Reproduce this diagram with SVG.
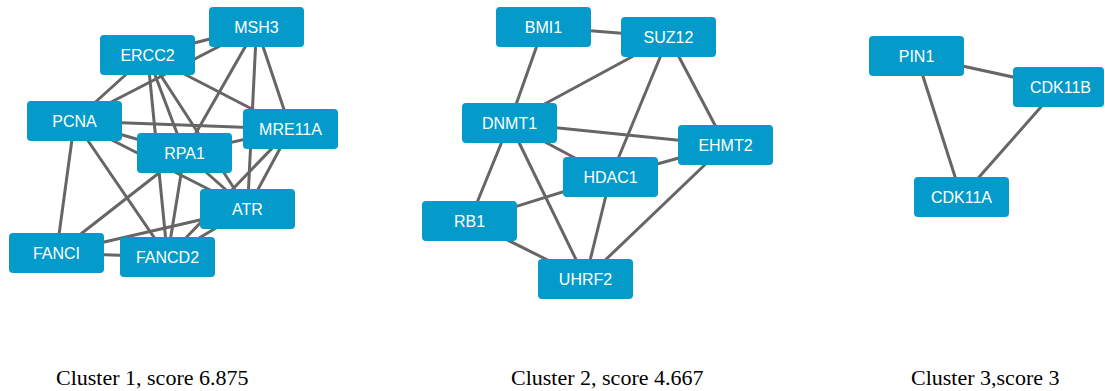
<svg xmlns="http://www.w3.org/2000/svg" width="1105" height="391" viewBox="0 0 1105 391">
  <style>
    .edge { stroke: #666666; stroke-width: 3; stroke-linecap: butt; fill: none; }
    .node rect { fill: #049bcb; }
    .node text { fill: #ffffff; font-family: "Liberation Sans", Arial, sans-serif; font-size: 16px; text-anchor: middle; }
    .caption { fill: #000000; font-family: "Liberation Serif", "Times New Roman", serif; font-size: 22px; }
  </style>

  <!-- connectors, drawn centre to centre beneath the nodes -->
  <g id="edges" class="edge">
    <!-- cluster 1 -->
    <line x1="147.5" y1="55" x2="256.5" y2="27"/>
    <line x1="74.5" y1="121" x2="256.5" y2="27"/>
    <line x1="256.5" y1="27" x2="184.5" y2="153"/>
    <line x1="256.5" y1="27" x2="247.5" y2="209"/>
    <line x1="256.5" y1="27" x2="290.5" y2="129"/>
    <line x1="147.5" y1="55" x2="74.5" y2="121"/>
    <line x1="147.5" y1="55" x2="167.5" y2="257"/>
    <line x1="147.5" y1="55" x2="184.5" y2="153"/>
    <line x1="147.5" y1="55" x2="247.5" y2="209"/>
    <line x1="147.5" y1="55" x2="290.5" y2="129"/>
    <line x1="74.5" y1="121" x2="290.5" y2="129"/>
    <line x1="74.5" y1="121" x2="184.5" y2="153"/>
    <line x1="74.5" y1="121" x2="247.5" y2="209"/>
    <line x1="74.5" y1="121" x2="56.5" y2="253"/>
    <line x1="74.5" y1="121" x2="167.5" y2="257"/>
    <line x1="290.5" y1="129" x2="184.5" y2="153"/>
    <line x1="290.5" y1="129" x2="247.5" y2="209"/>
    <line x1="290.5" y1="129" x2="167.5" y2="257"/>
    <line x1="184.5" y1="153" x2="247.5" y2="209"/>
    <line x1="184.5" y1="153" x2="56.5" y2="253"/>
    <line x1="184.5" y1="153" x2="167.5" y2="257"/>
    <line x1="247.5" y1="209" x2="56.5" y2="253"/>
    <line x1="247.5" y1="209" x2="167.5" y2="257"/>
    <line x1="56.5" y1="253" x2="167.5" y2="257"/>
    <!-- cluster 2 -->
    <line x1="543.5" y1="27" x2="668.5" y2="37"/>
    <line x1="543.5" y1="27" x2="509.5" y2="123"/>
    <line x1="668.5" y1="37" x2="509.5" y2="123"/>
    <line x1="668.5" y1="37" x2="610.5" y2="177"/>
    <line x1="668.5" y1="37" x2="725.5" y2="145"/>
    <line x1="509.5" y1="123" x2="725.5" y2="145"/>
    <line x1="509.5" y1="123" x2="610.5" y2="177"/>
    <line x1="509.5" y1="123" x2="469.5" y2="221"/>
    <line x1="509.5" y1="123" x2="585.5" y2="279"/>
    <line x1="610.5" y1="177" x2="725.5" y2="145"/>
    <line x1="610.5" y1="177" x2="469.5" y2="221"/>
    <line x1="610.5" y1="177" x2="585.5" y2="279"/>
    <line x1="725.5" y1="145" x2="585.5" y2="279"/>
    <line x1="469.5" y1="221" x2="585.5" y2="279"/>
    <!-- cluster 3 -->
    <line x1="916.5" y1="56" x2="1058.5" y2="87"/>
    <line x1="916.5" y1="56" x2="961.5" y2="197"/>
    <line x1="1058.5" y1="87" x2="961.5" y2="197"/>
  </g>

  <!-- cluster 1 nodes -->
  <g id="MSH3" class="node"><rect x="209" y="7" width="95" height="40" rx="4"/><text x="256.5" y="32.5">MSH3</text></g>
  <g id="ERCC2" class="node"><rect x="100" y="35" width="95" height="40" rx="4"/><text x="147.5" y="60.5">ERCC2</text></g>
  <g id="PCNA" class="node"><rect x="27" y="101" width="95" height="40" rx="4"/><text x="74.5" y="126.5">PCNA</text></g>
  <g id="MRE11A" class="node"><rect x="243" y="109" width="95" height="40" rx="4"/><text x="290.5" y="134.5">MRE11A</text></g>
  <g id="RPA1" class="node"><rect x="137" y="133" width="95" height="40" rx="4"/><text x="184.5" y="158.5">RPA1</text></g>
  <g id="ATR" class="node"><rect x="200" y="189" width="95" height="40" rx="4"/><text x="247.5" y="214.5">ATR</text></g>
  <g id="FANCI" class="node"><rect x="9" y="233" width="95" height="40" rx="4"/><text x="56.5" y="258.5">FANCI</text></g>
  <g id="FANCD2" class="node"><rect x="120" y="237" width="95" height="40" rx="4"/><text x="167.5" y="262.5">FANCD2</text></g>

  <!-- cluster 2 nodes -->
  <g id="BMI1" class="node"><rect x="496" y="7" width="95" height="40" rx="4"/><text x="543.5" y="32.5">BMI1</text></g>
  <g id="SUZ12" class="node"><rect x="621" y="17" width="95" height="40" rx="4"/><text x="668.5" y="42.5">SUZ12</text></g>
  <g id="DNMT1" class="node"><rect x="462" y="103" width="95" height="40" rx="4"/><text x="509.5" y="128.5">DNMT1</text></g>
  <g id="EHMT2" class="node"><rect x="678" y="125" width="95" height="40" rx="4"/><text x="725.5" y="150.5">EHMT2</text></g>
  <g id="HDAC1" class="node"><rect x="563" y="157" width="95" height="40" rx="4"/><text x="610.5" y="182.5">HDAC1</text></g>
  <g id="RB1" class="node"><rect x="422" y="201" width="95" height="40" rx="4"/><text x="469.5" y="226.5">RB1</text></g>
  <g id="UHRF2" class="node"><rect x="538" y="259" width="95" height="40" rx="4"/><text x="585.5" y="284.5">UHRF2</text></g>

  <!-- cluster 3 nodes -->
  <g id="PIN1" class="node"><rect x="869" y="36" width="95" height="40" rx="4"/><text x="916.5" y="61.5">PIN1</text></g>
  <g id="CDK11B" class="node"><rect x="1013" y="67" width="91" height="40" rx="4"/><text x="1060.5" y="92.5">CDK11B</text></g>
  <g id="CDK11A" class="node"><rect x="914" y="177" width="95" height="40" rx="4"/><text x="961.5" y="202.5">CDK11A</text></g>

  <!-- captions -->
  <text class="caption" x="56" y="385">Cluster 1, score 6.875</text>
  <text class="caption" x="511" y="385">Cluster 2, score 4.667</text>
  <text class="caption" x="911" y="385">Cluster 3,score 3</text>
</svg>
